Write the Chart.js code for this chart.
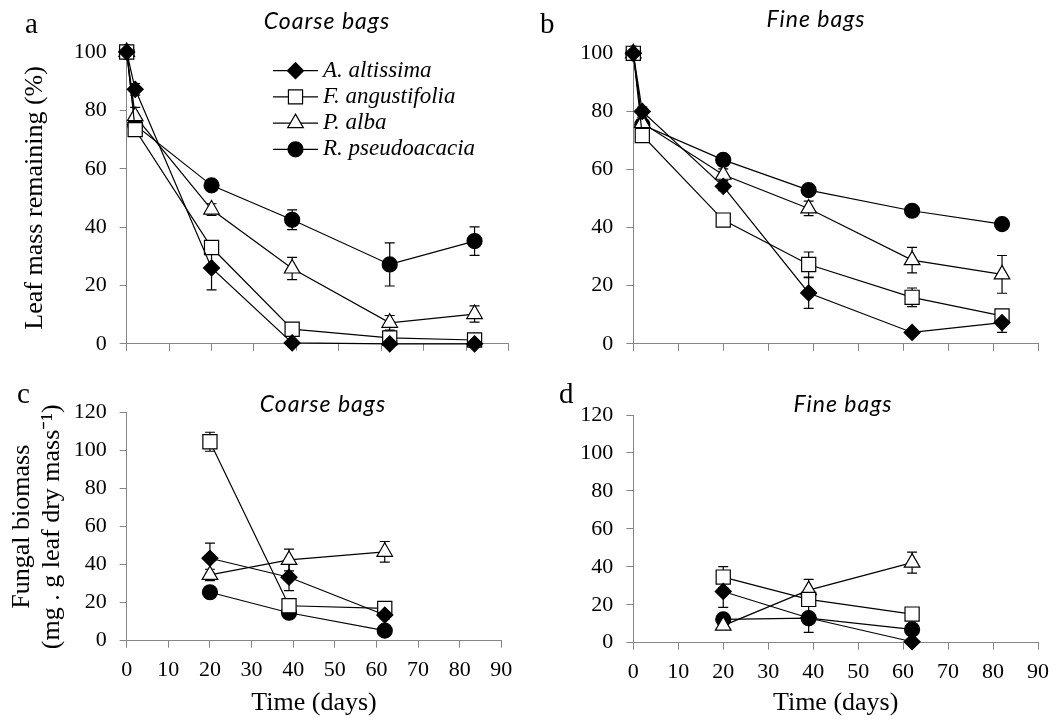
<!DOCTYPE html>
<html>
<head>
<meta charset="utf-8">
<script src="https://cdn.jsdelivr.net/npm/chart.js@4.4.0/dist/chart.umd.min.js"></script>
<style>
  html, body { margin: 0; padding: 0; background: #fff; }
  #fig { position: relative; width: 1058px; height: 721px; overflow: hidden; }
  #fig canvas { position: absolute; }
  .letter { position: absolute; font-family: "Liberation Serif", serif; font-size: 29px; line-height: 28px; color: #000; }
  .ttl { position: absolute; font-family: Lato, sans-serif; font-style: italic; font-size: 23px; letter-spacing: 1px; line-height: 1.2; color: #000; transform: translateX(-50%); white-space: nowrap; }
</style>
</head>
<body>
<div id="fig">
  <canvas id="panelA" width="529" height="370" style="left:0;top:0;width:529px;height:370px"></canvas>
  <canvas id="panelB" width="529" height="370" style="left:529px;top:0;width:529px;height:370px"></canvas>
  <canvas id="panelC" width="529" height="351" style="left:0;top:370px;width:529px;height:351px"></canvas>
  <canvas id="panelD" width="529" height="351" style="left:529px;top:370px;width:529px;height:351px"></canvas>
  <div class="letter" style="left:25px;top:9px">a</div>
  <div class="letter" style="left:540px;top:9px">b</div>
  <div class="letter" style="left:17px;top:379px">c</div>
  <div class="letter" style="left:559px;top:379px">d</div>
  <div class="ttl" style="left:327px;top:7px">Coarse bags</div>
  <div class="ttl" style="left:816px;top:5px">Fine bags</div>
  <div class="ttl" style="left:323px;top:390px">Coarse bags</div>
  <div class="ttl" style="left:843px;top:390px">Fine bags</div>
</div>
<script>
// sampling days
const massDays = [0, 2, 20, 39, 62, 82];
const fungalDays = [20, 39, 62];

const species = ["A. altissima", "F. angustifolia", "P. alba", "R. pseudoacacia"];

// tick labels
const timeTicks = [0, 10, 20, 30, 40, 50, 60, 70, 80, 90];
const massTicks = [0, 20, 40, 60, 80, 100];
const fungalTicks = [0, 20, 40, 60, 80, 100, 120];

// leaf mass remaining (%), coarse bags
const altCoarse = [100, 87.2, 26, 0.3, 0, 0];
const angCoarse = [100, 73.4, 33, 5, 2, 1.3];
const albCoarse = [100, 78, 46, 25.8, 7.2, 10.2];
const pseCoarse = [100, 75, 54.3, 42.5, 27.2, 35.2];
const altCoarseErr = [0, 2, 7.5, 0.3, 0, 0];
const angCoarseErr = [0, 2, 2, 0.5, 0.5, 0.3];
const albCoarseErr = [0, 3, 2, 3.8, 2.5, 2.8];
const pseCoarseErr = [0, 3, 1, 3.4, 7.4, 4.9];

// leaf mass remaining (%), fine bags
const altFine = [100, 80, 54.2, 17.5, 3.9, 7.3];
const angFine = [100, 71.7, 42.6, 27.3, 16, 9.6];
const albFine = [100, 76, 58.2, 46.6, 28.8, 23.9];
const pseFine = [100, 75.4, 63.3, 52.9, 45.8, 41.2];
const altFineErr = [0, 1.5, 1.5, 5.3, 1, 3.4];
const angFineErr = [0, 1, 1, 4.3, 3.2, 2];
const albFineErr = [0, 2, 2, 2.5, 4.4, 6.5];
const pseFineErr = [0, 1, 1, 1, 1, 1.5];

// fungal biomass, coarse bags
const altFunCoarse = [43.4, 33.4, 13.5];
const angFunCoarse = [104.7, 18.4, 17];
const albFunCoarse = [34.6, 42.5, 46.8];
const pseFunCoarse = [25.5, 14.7, 5.3];
const altFunCoarseErr = [8, 7, 2];
const angFunCoarseErr = [5, 3, 1.5];
const albFunCoarseErr = [3, 5.7, 5.4];
const pseFunCoarseErr = [1, 1.5, 1];

// fungal biomass, fine bags
const altFunFine = [27, 13, 0.5];
const angFunFine = [34.6, 22.8, 15.1];
const albFunFine = [9, 27.7, 42.2];
const pseFunFine = [12.3, 12.9, 7];
const altFunFineErr = [8.4, 1, 0.5];
const angFunFineErr = [5.5, 2, 1];
const albFunFineErr = [1, 5.7, 5.5];
const pseFunFineErr = [1, 7.5, 1];

Chart.defaults.color = "#000";
Chart.defaults.font.family = "'Liberation Serif', 'Times New Roman', serif";

const axisGray = "#868686";

const markerStyles = [
  { pointStyle: "rectRot", fill: "#000", radius: 8 },
  { pointStyle: "rect", fill: "#fff", radius: 10 },
  { pointStyle: "triangle", fill: "#fff", radius: 9 },
  { pointStyle: "circle", fill: "#000", radius: 7.5 },
];

function buildDatasets(xs, series, errors) {
  return series.map((vals, i) => ({
    label: species[i],
    data: vals.map((v, j) => ({ x: xs[j], y: v })),
    errors: errors[i],
    borderColor: "#000",
    borderWidth: 1.2,
    pointStyle: markerStyles[i].pointStyle,
    pointRadius: markerStyles[i].radius,
    pointHoverRadius: markerStyles[i].radius,
    pointBackgroundColor: markerStyles[i].fill,
    pointBorderColor: "#000",
    pointBorderWidth: 1.2,
    tension: 0,
    fill: false,
    clip: false,
  }));
}

// error bars drawn under the markers
const errorBarPlugin = {
  id: "errorBars",
  beforeDatasetsDraw(chart) {
    const { ctx } = chart;
    const x = chart.scales.x;
    const y = chart.scales.y;
    ctx.save();
    ctx.strokeStyle = "#000";
    ctx.lineWidth = 1.2;
    chart.data.datasets.forEach((ds) => {
      ds.data.forEach((pt, j) => {
        const e = ds.errors[j];
        if (!e) return;
        const px = x.getPixelForValue(pt.x);
        const top = y.getPixelForValue(pt.y + e);
        const bot = y.getPixelForValue(pt.y - e);
        ctx.beginPath();
        ctx.moveTo(px, top);
        ctx.lineTo(px, bot);
        ctx.moveTo(px - 5, top);
        ctx.lineTo(px + 5, top);
        ctx.moveTo(px - 5, bot);
        ctx.lineTo(px + 5, bot);
        ctx.stroke();
      });
    });
    ctx.restore();
  },
};

// legend with a line through the marker, like the spreadsheet one
const lineLegendPlugin = {
  id: "lineLegend",
  afterDraw(chart, args, opts) {
    if (!opts.display) return;
    const { ctx } = chart;
    ctx.save();
    chart.data.datasets.forEach((ds, i) => {
      const y = opts.top + i * opts.rowHeight;
      ctx.strokeStyle = "#000";
      ctx.lineWidth = 1.2;
      ctx.beginPath();
      ctx.moveTo(opts.left, y);
      ctx.lineTo(opts.left + opts.lineLength, y);
      ctx.stroke();
      ctx.fillStyle = ds.pointBackgroundColor;
      Chart.helpers.drawPoint(
        ctx,
        { pointStyle: ds.pointStyle, radius: ds.pointRadius, borderWidth: ds.pointBorderWidth, rotation: 0 },
        opts.left + opts.lineLength / 2,
        y
      );
      ctx.fillStyle = "#000";
      ctx.font = opts.font;
      ctx.textAlign = "left";
      ctx.textBaseline = "middle";
      ctx.fillText(ds.label, opts.left + opts.lineLength + opts.gap, y);
    });
    ctx.restore();
  },
};

function panelOptions(p) {
  return {
    responsive: false,
    animation: false,
    events: [],
    layout: { padding: { left: 0, top: p.padTop, right: p.padRight, bottom: p.padBottom } },
    plugins: {
      legend: { display: false },
      tooltip: { enabled: false },
      lineLegend: p.legend || { display: false },
    },
    scales: {
      x: {
        type: "linear",
        min: 0,
        max: 90,
        afterBuildTicks: (s) => { s.ticks = timeTicks.map((v) => ({ value: v })); },
        afterFit: (s) => { s.height = p.xHeight; },
        grid: { drawOnChartArea: false, drawTicks: true, tickLength: 7, color: axisGray, lineWidth: 1 },
        border: { display: true, color: axisGray, width: 1 },
        ticks: { display: p.xLabels, padding: 9, font: { size: 22 }, maxRotation: 0 },
        title: {
          display: p.xLabels,
          text: "Time (days)",
          font: { size: 26 },
          padding: { top: 0, bottom: 2.4 },
        },
      },
      y: {
        min: 0,
        max: p.yTicks[p.yTicks.length - 1],
        afterBuildTicks: (s) => { s.ticks = p.yTicks.map((v) => ({ value: v })); },
        afterFit: (s) => { s.width = p.yWidth; },
        grid: { drawOnChartArea: false, drawTicks: true, tickLength: 7, color: axisGray, lineWidth: 1 },
        border: { display: true, color: axisGray, width: 1 },
        ticks: { padding: 13, font: { size: 22 } },
        title: p.yTitle
          ? {
              display: true,
              text: p.yTitle,
              font: { size: 26, lineHeight: p.yTitleLineHeight },
              padding: { top: p.yTitlePad, bottom: 0 },
            }
          : { display: false },
      },
    },
  };
}

new Chart(document.getElementById("panelA"), {
  type: "line",
  data: {
    datasets: buildDatasets(massDays, [altCoarse, angCoarse, albCoarse, pseCoarse],
      [altCoarseErr, angCoarseErr, albCoarseErr, pseCoarseErr]),
  },
  options: panelOptions({
    padTop: 52, padRight: 20.5, padBottom: 14.3, xHeight: 10, yWidth: 126.7,
    xLabels: false, yTicks: massTicks,
    yTitle: "Leaf mass remaining (%)", yTitleLineHeight: 1.2, yTitlePad: 19.4,
    legend: { display: true, left: 273, top: 70.7, rowHeight: 26.2, lineLength: 45, gap: 5,
      font: "italic 23px 'Liberation Serif', serif" },
  }),
  plugins: [errorBarPlugin, lineLegendPlugin],
});

new Chart(document.getElementById("panelB"), {
  type: "line",
  data: {
    datasets: buildDatasets(massDays, [altFine, angFine, albFine, pseFine],
      [altFineErr, angFineErr, albFineErr, pseFineErr]),
  },
  options: panelOptions({
    padTop: 53.3, padRight: 20, padBottom: 11.7, xHeight: 10, yWidth: 104.3,
    xLabels: false, yTicks: massTicks,
  }),
  plugins: [errorBarPlugin],
});

new Chart(document.getElementById("panelC"), {
  type: "line",
  data: {
    datasets: buildDatasets(fungalDays, [altFunCoarse, angFunCoarse, albFunCoarse, pseFunCoarse],
      [altFunCoarseErr, angFunCoarseErr, albFunCoarseErr, pseFunCoarseErr]),
  },
  options: panelOptions({
    padTop: 42.7, padRight: 27.7, padBottom: 0, xHeight: 80.3, yWidth: 126.7,
    xLabels: true, yTicks: fungalTicks,
    yTitle: ["Fungal biomass", "(mg . g leaf dry mass\u207B\u00B9)"], yTitleLineHeight: 1.15, yTitlePad: 7,
  }),
  plugins: [errorBarPlugin],
});

new Chart(document.getElementById("panelD"), {
  type: "line",
  data: {
    datasets: buildDatasets(fungalDays, [altFunFine, angFunFine, albFunFine, pseFunFine],
      [altFunFineErr, angFunFineErr, albFunFineErr, pseFunFineErr]),
  },
  options: panelOptions({
    padTop: 45, padRight: 20, padBottom: 0, xHeight: 78.3, yWidth: 104.3,
    xLabels: true, yTicks: fungalTicks,
  }),
  plugins: [errorBarPlugin],
});
</script>
</body>
</html>
